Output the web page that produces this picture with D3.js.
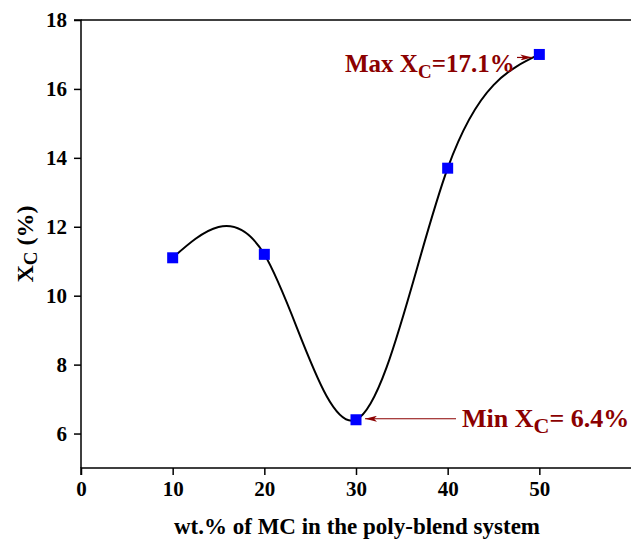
<!DOCTYPE html>
<html><head><meta charset="utf-8">
<script src="https://cdn.jsdelivr.net/npm/d3@7"></script>
<style>body{margin:0;background:#fff}svg{display:block}text{font-family:"Liberation Serif","Times New Roman",serif !important;font-weight:bold}</style>
</head><body>
<svg id="c" width="632" height="539"></svg>
<script>
const xVals = [10, 20, 30, 40, 50];
const yVals = [11.1, 11.2, 6.4, 13.7, 17.0];
const xTicks = [0, 10, 20, 30, 40, 50];
const yTicks = [6, 8, 10, 12, 14, 16, 18];
const xTitle = "wt.% of MC in the poly-blend system";

const svg = d3.select("#c");
const x = d3.scaleLinear().domain([0, 60]).range([81, 631]);
const y = d3.scaleLinear().domain([5, 18]).range([468, 20]);
const FF = '"Liberation Serif","Times New Roman",serif';

// axes
const gx = svg.append("g").attr("transform", `translate(0,${y(5)})`)
  .call(d3.axisBottom(x).tickValues(xTicks).tickSize(7).tickPadding(6).tickFormat(d3.format("d")));
const gy = svg.append("g").attr("transform", `translate(${x(0)},0)`)
  .call(d3.axisLeft(y).tickValues(yTicks).tickSize(7).tickPadding(7).tickFormat(d3.format("d")));
[gx, gy].forEach(g => {
  g.attr("font-family", FF);
  g.select(".domain").attr("stroke", "#000").attr("stroke-width", 1.5);
  g.selectAll(".tick line").attr("stroke", "#000").attr("stroke-width", 1.5);
  g.selectAll(".tick text").attr("fill", "#000").style("font-size", "21px");
});
gx.select(".domain").attr("d", `M${x(0)},7V0H${x(60)}`);
gy.select(".domain").attr("d", `M-7,${y(18)}H0V${y(5)}`);
// top border
svg.append("line").attr("x1", x(0)).attr("x2", x(60)).attr("y1", y(18)).attr("y2", y(18))
  .attr("stroke", "#000").attr("stroke-width", 1.5);

// curve
const pts = xVals.map((d, i) => [d, yVals[i]]);
svg.append("path").datum(pts)
  .attr("d", d3.line().x(d => x(d[0])).y(d => y(d[1])).curve(d3.curveNatural))
  .attr("fill", "none").attr("stroke", "#000").attr("stroke-width", 2);

svg.selectAll("rect.pt").data(pts).enter().append("rect").attr("class", "pt")
  .attr("x", d => x(d[0]) - 5.5).attr("y", d => y(d[1]) - 5.5)
  .attr("width", 11).attr("height", 11).attr("fill", "#0000ff");

// arrows
const red = "#8b0000";
const defs = svg.append("defs");
defs.append("marker").attr("id", "ah").attr("viewBox", "0 0 12 6").attr("refX", 12).attr("refY", 3)
  .attr("markerWidth", 12).attr("markerHeight", 6).attr("markerUnits", "userSpaceOnUse").attr("orient", "auto")
  .append("path").attr("d", "M0,0L12,3L0,6L3,3Z").attr("fill", red);
svg.append("line").attr("x1", 517).attr("y1", y(17.0) + 3).attr("x2", x(50) - 7).attr("y2", y(17.0) + 3)
  .attr("stroke", red).attr("stroke-width", 1.2).attr("marker-end", "url(#ah)");
svg.append("line").attr("x1", 456).attr("y1", y(6.4) - 1).attr("x2", x(30) + 9).attr("y2", y(6.4) - 1)
  .attr("stroke", red).attr("stroke-width", 1.2).attr("marker-end", "url(#ah)");

// annotation texts
const t1 = svg.append("text").attr("x", 345).attr("y", 72).attr("fill", red).style("font-size", "25px");
t1.append("tspan").text("Max X");
t1.append("tspan").attr("dy", 6).style("font-size", "19px").text("C");
t1.append("tspan").attr("dy", -6).text("=17.1%");
const t2 = svg.append("text").attr("x", 462).attr("y", 427).attr("fill", red).style("font-size", "26px");
t2.append("tspan").text("Min X");
t2.append("tspan").attr("dy", 6).style("font-size", "22px").text("C");
t2.append("tspan").attr("dy", -6).text("= 6.4%");

// axis titles
svg.append("text").attr("x", 357).attr("y", 534).attr("text-anchor", "middle")
  .style("font-size", "23px").attr("fill", "#000").text(xTitle);
const yl = svg.append("text").attr("transform", "translate(33,244) rotate(-90)").attr("text-anchor", "middle")
  .style("font-size", "24px").attr("fill", "#000");
yl.append("tspan").text("X");
yl.append("tspan").attr("dy", 4).style("font-size", "19px").text("C");
yl.append("tspan").attr("dy", -4).text(" (%)");
</script>
</body></html>
